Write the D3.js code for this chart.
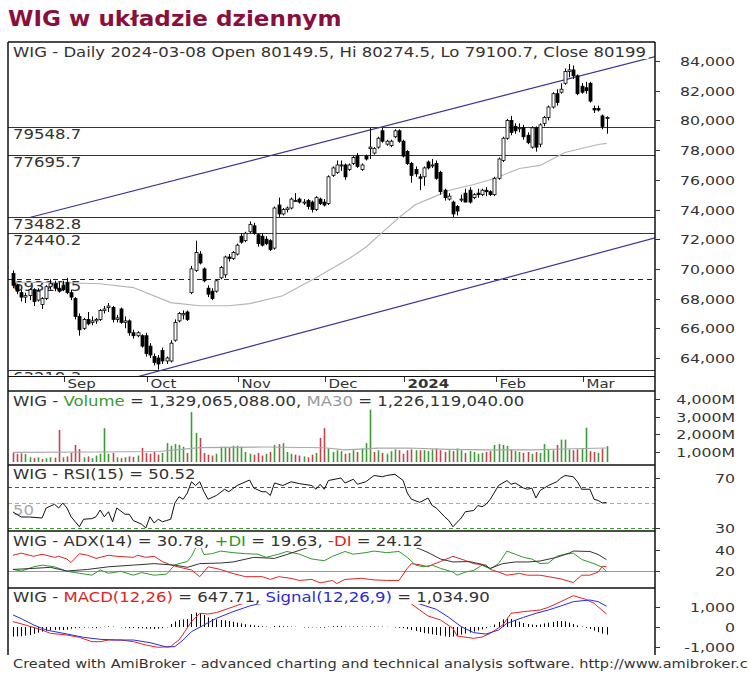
<!DOCTYPE html>
<html><head><meta charset="utf-8">
<script src="https://cdn.jsdelivr.net/npm/d3@7"></script>
<style>body{margin:0;background:#fff}svg{display:block}</style>
</head><body>
<svg id="c" width="750" height="673"></svg>
<script>
// ---------------- DATA ----------------
const monthLabels = ["Sep","Oct","Nov","Dec","2024","Feb","Mar"];
const monthStart  = [13,33,55,76,95,117,138];
const priceTicks  = [64000,66000,68000,70000,72000,74000,76000,78000,80000,82000,84000];
const volTicks    = [1000,2000,3000,4000];
const rsiTicks    = [30,70];
const adxTicks    = [20,40];
const macdTicks   = [-1000,0,1000];

const open = [
69700,68900,68400,68100,68200,68600,67900,67600,68000,68800,
69000,68700,68900,69100,68400,68000,66800,66000,66600,66400,
66500,66600,67200,67400,67400,66600,67300,66400,66500,65700,
65500,65500,65500,64800,64100,64000,64500,63800,63800,65200,
66500,66900,67100,68400,69900,71000,70000,68700,68500,68500,
69400,69600,70800,70700,71000,72200,71900,72500,72900,72300,
72200,72000,71900,71400,74300,73700,74000,74100,74600,74700,
74500,74600,74500,74000,74700,74500,74400,76300,76500,77000,
77000,76700,77100,77600,76700,77600,78100,77800,78200,79300,
78400,78300,78900,79300,78600,77900,77100,76700,76200,76200,
77200,77000,77100,76500,75300,74700,74500,74200,74700,75100,
75300,74800,75100,75000,75300,75200,75000,76100,77300,78800,
80000,79600,79500,79500,79000,78200,79500,78400,79800,80200,
80900,81800,81900,82500,83300,83400,83000,82300,82200,82500,
80800,80800,80300,80149.5];
const high = [
69900,69000,68600,68400,68700,68700,68700,68100,68900,69300,
69200,69100,69200,69400,68600,68100,67000,66700,67100,66800,
66700,67300,67500,67700,67500,66900,67400,66800,66600,65900,
65800,65600,65700,65000,64300,64200,64700,64100,65200,66600,
67100,67200,67200,70200,71900,71200,70100,68900,68700,69300,
70200,70900,71000,71200,71700,72400,72500,73200,73100,72400,
72400,72200,72000,74200,74800,74100,74200,74800,75100,74800,
74700,74700,74600,74900,74800,74700,76300,76900,77300,77300,
77100,77100,77600,77800,77100,77700,79500,78200,78900,79500,
78700,78700,79400,79400,78700,78000,77200,76900,76400,76900,
77300,77400,77300,76600,75400,75100,74600,74300,75000,75400,
75500,75100,75400,75400,75500,75300,76200,77500,78900,80100,
80300,79800,79800,79700,79200,79600,79600,79800,80300,81000,
81900,82100,82500,83500,83800,83700,83100,82500,82600,82600,
81000,81000,80400,80274.5];
const low = [
68700,68300,67800,67700,67900,67500,67800,67300,67900,68600,
68500,68400,68500,68300,67900,66600,65500,65900,66200,66200,
66300,66500,67000,67100,66400,66400,66300,66000,65500,65300,
65400,64700,64100,64000,63500,63220,63600,63600,63700,65100,
66400,66600,66500,68300,69800,70300,69100,68100,67900,68400,
69300,69400,70500,70600,70900,71700,71800,72400,72300,71500,
71500,71600,71200,71300,73500,73600,73800,74000,74500,74400,
74300,74000,73800,73900,74300,74200,74300,76200,76400,76600,
76000,76600,77000,76800,76600,77300,77400,77700,78100,78500,
78300,78200,78800,78500,77500,77000,75800,76200,75300,75600,
76700,76800,76000,75000,74600,74600,73500,73600,74500,74600,
74400,74700,74800,74900,74900,74900,74900,76000,77200,78700,
79000,79100,79200,78700,78400,78100,77900,78200,79600,80000,
80800,81000,81800,82400,82900,82800,81700,81800,81800,81200,
80500,80600,79400,79100.7];
const close = [
68900,68500,68100,68200,68600,67800,68500,68000,68800,69000,
68700,68500,68600,68400,68100,66800,65900,66600,66300,66500,
66600,67200,67300,67500,66600,66700,66400,66500,65700,65500,
65700,64800,64300,64200,63700,63600,63800,64000,65000,66400,
67000,67000,66600,70000,71100,70400,69200,68300,68000,69200,
70100,70800,70700,71100,71600,71800,72400,73000,72400,71700,
71600,71700,71300,74100,73700,74000,74100,74700,74600,74500,
74500,74200,74000,74800,74400,74300,76200,76800,77000,77000,
76200,77000,77500,76900,77000,77400,78200,78100,78800,78600,
78600,78600,79300,78600,77600,77100,76300,76400,76100,76800,
76800,77000,76100,75200,74800,74900,73700,73900,74700,74500,
74500,75000,75000,75300,75200,75000,76100,77400,78800,80000,
79200,79300,79500,78900,78500,79500,78200,79700,80200,80900,
81800,81200,82100,83300,83400,83000,81800,81900,82000,81300,
80700,80700,79600,80199];
// volume in millions
const volume = [
950,900,920,880,700,650,700,600,650,700,680,
2250,700,750,950,1400,1170,700,750,650,800,900,
2350,900,950,700,650,700,750,720,800,1230,
950,900,1000,850,950,1500,1350,1450,1400,1300,950,
3260,2080,1800,950,850,800,900,1300,1300,1250,1350,1350,1300,
1000,900,850,950,800,900,1000,1400,1450,1500,
1000,900,850,800,750,700,850,950,1800,2350,
1200,1000,1100,1050,900,950,1100,1000,1200,1500,3400,
1000,1100,950,900,1050,1150,1100,900,1100,1150,1100,1100,1100,
1050,1150,1200,1100,1000,1100,1050,1200,1100,950,1050,1000,900,950,1000,1050,
1400,1450,1400,1350,
1150,1050,1000,950,1000,900,1000,950,1450,1150,1100,
1400,1700,1700,1150,1100,1150,1200,2380,1050,1000,950,1200,1329];
// [bar index, value] readings of indicator lines
const priceMA = [[0,69080],[11,69080],[21,69000],[29,68740],[38,67730],[45,67520],[52,67520],[57,67660],[65,68190],[73,69400],[81,70700],[85,71460],[89,72460],[93,73460],[97,74330],[101,74800],[105,75280],[111,75680],[116,76090],[122,76760],[127,76970],[133,77840],[141,78380],[143,78450]];
const volMA = [[0,980],[20,1000],[35,1030],[45,1250],[60,1280],[75,1240],[80,1120],[88,1220],[95,1230],[105,1150],[115,1120],[125,1120],[135,1180],[143,1226]];
const levels = [79548.7,77695.7,73482.8,72440.2,63219.3];
const dashedLevel = 69320.5;
const trendUpper = [[4,73460],[155,84320]];
const trendLower = [[30,62740],[155,72110]];
const rsi = [[0,42.8],[2,38.8],[4,38.8],[7,38],[8,46],[10,49],[11,46],[12,50],[13,46],[14,39],[16,31],[17,37],[19,37.5],[20,39],[21,44.4],[22,39],[23,43],[24,35],[25,46],[27,41],[28,41],[29,36],[31,33],[32,30],[33,39],[34,34],[35,37],[36,35],[37,36],[38,37],[39,50],[40,55],[41,53],[42,58],[43,67],[44,64],[45,67],[46,59],[47,53],[49,56],[51,61],[52,59],[54,64],[57,68.4],[58,62],[60,59],[61,59],[62,56],[63,66],[65,64],[67,67],[69,65.5],[72,64],[73,61],[74,65],[75,61],[76,68],[79,70],[80,66],[82,69],[83,65],[85,67],[87,72],[89,71],[90,72],[92,73],[94,68],[95,58],[96,53],[98,50.5],[100,54],[101,48],[102,46],[104,39],[105,36],[106,31],[108,38],[109,43],[111,44],[112,48],[113,47],[114,49],[115,53],[117,64],[119,68],[120,65],[121,66],[123,62],[124,61],[125,62],[126,54],[127,60],[128,62],[129,64],[131,67],[132,70],[133,72],[135,71],[136,67],[137,61],[139,61],[140,53],[141,52],[142,50],[143,50.52]];
const rsiLevels = [30,50,63];
const minusDI = [[0,35],[2,37],[5,34],[7,36],[10,33],[11,34],[13,31.4],[14,28],[16,36.5],[18,35],[20,32],[21,33],[23,35],[25,34],[27,33.5],[29,33],[30,35],[32,33],[34,34],[36,29],[38,25.8],[41,22.7],[43,21],[45,14.6],[47,24],[50,21.5],[53,17.6],[56,14.6],[60,14.6],[62,12],[64,14.6],[67,13],[69,11],[72,12],[74,8.7],[77,11],[78,8],[80,12],[84,13],[87,11.5],[90,11],[93,11],[95,22.5],[96,27],[98,26],[100,24],[101,26],[103,29],[106,34],[109,30],[111,27],[114,25.6],[115,21.5],[117,19],[119,16],[122,17.7],[124,16],[127,16],[129,14.6],[132,12.5],[135,9],[137,16],[139,16],[141,19],[142,24.5],[143,24.12]];
const plusDI = [[0,21.5],[2,20],[5,24],[7,25.6],[10,24],[13,19.7],[16,17.8],[19,16],[21,21],[23,17.8],[26,19.7],[29,16],[31,18.5],[34,16],[37,17],[39,25.8],[40,27],[42,29],[43,34],[44,42],[45,45],[46,35.7],[48,36.5],[50,39],[53,37.5],[56,36.5],[59,36],[61,33],[64,36],[66,38.6],[69,36],[72,31.4],[75,29.8],[77,34],[80,38.6],[82,36],[85,37.5],[87,39],[90,37.5],[93,38.6],[95,33],[97,25.6],[99,24],[101,25.6],[103,22.5],[106,19],[107,16],[109,19],[111,20.5],[113,25.6],[115,22],[117,27],[119,39],[121,36],[123,33],[125,31.4],[127,27],[129,27.6],[131,34],[133,36],[135,37],[137,31],[140,27],[142,23.5],[143,19.63]];
const adx = [[0,21.5],[5,22.5],[9,23.5],[13,20],[18,21.5],[23,24],[29,25.6],[34,27],[39,25.6],[42,23.5],[45,27],[50,27.6],[53,28.6],[58,33],[63,32],[66,35.7],[70,41],[74,46],[81,52],[88,52],[93,48],[98,41],[100,37.6],[103,31.4],[106,28.6],[110,29],[113,26.3],[115,22.5],[118,27],[121,28.6],[124,28.6],[127,29.5],[131,33],[134,37],[135,39],[139,38.6],[141,35.7],[143,30.78]];
const adxLevel = 20;
const macd = [[0,267],[3,100],[7,-150],[9,-317],[13,-400],[16,-517],[19,-733],[21,-733],[23,-650],[26,-650],[29,-733],[32,-900],[35,-1017],[38,-980],[39,-800],[40,-650],[41,-350],[43,267],[45,683],[47,650],[49,720],[52,933],[55,1150],[65,1500],[80,1550],[95,1300],[96,1150],[98,850],[100,550],[103,350],[106,-67],[107,-450],[111,-567],[113,-500],[115,-317],[118,100],[120,683],[123,767],[127,850],[129,983],[132,1267],[135,1567],[138,1383],[140,1183],[143,647.71]];
const signal = [[0,600],[2,417],[5,100],[8,-150],[13,-350],[17,-517],[21,-617],[25,-650],[29,-650],[33,-783],[37,-1000],[39,-980],[41,-650],[43,-233],[46,100],[49,433],[53,767],[57,1050],[59,1150],[70,1400],[85,1500],[95,1300],[98,1150],[102,883],[105,483],[108,17],[111,-283],[114,-350],[117,-150],[119,183],[123,483],[126,683],[129,850],[132,1050],[135,1267],[139,1350],[141,1267],[143,1034.9]];
const macdHist = [
-480,-470,-460,-430,-400,-340,-280,-230,
-180,-160,-150,-140,-150,-130,
-90,-60,-40,-30,-20,-40,-60,
-20,10,30,20,0,-20,
-40,-60,-50,-70,-60,-80,
-90,-100,-80,-60,-20,
150,280,350,380,400,
650,720,680,600,480,
400,380,350,330,300,260,220,180,
140,110,80,60,40,20,-10,
50,60,40,30,20,10,0,-20,-30,-20,-10,-30,-40,
20,40,50,40,20,10,20,30,20,10,30,20,10,20,10,
0,-20,-40,-60,-100,
-150,-200,-250,-300,-330,
-370,-400,-430,-470,-500,-480,
-430,-380,-330,-280,-230,-170,
-120,-60,20,120,
250,380,430,400,330,
260,200,150,120,100,130,
180,220,260,300,300,280,220,150,
80,20,-40,-100,
-180,-260,-330,-387];

// ---------------- LAYOUT ----------------
const svg = d3.select("#c");
const FONT = "DejaVu Sans, Verdana, sans-serif";
const TXT = "#333";
const SX = 1.25;
const L = 8, R = 655;
const P = {main:[42,376], vol:[391,465], rsi:[465,531], adx:[531,588], macd:[588,655]};
const N = close.length;

const x = d3.scaleLinear().domain([0, N-1]).range([13, 606.5]);
const yP = d3.scaleLinear().domain([64000,84000]).range([358,61]);
const yV = d3.scaleLinear().domain([1000,4000]).range([452,399]);
const yR = d3.scaleLinear().domain([30,70]).range([528,478]);
const yA = d3.scaleLinear().domain([20,40]).range([571,550]);
const yM = d3.scaleLinear().domain([-1000,1000]).range([647,607]);

const defs = svg.append("defs");
function pane(name){
  const [t,b] = P[name];
  defs.append("clipPath").attr("id","cp-"+name).append("rect")
    .attr("x",L).attr("y",t).attr("width",R-L).attr("height",b-t);
  return svg.append("g").attr("clip-path",`url(#cp-${name})`);
}
function T(g, px, py, parts, size, o={}){
  const t = g.append("text")
    .attr("transform",`translate(${px},${py}) scale(${o.sx||SX},1)`)
    .attr("font-family",FONT).attr("font-size",size)
    .attr("font-weight",o.weight||"normal")
    .attr("text-anchor",o.anchor||"start");
  if (o.dy) t.attr("dy",o.dy);
  const arr = Array.isArray(parts)?parts:[[parts,o.color||TXT]];
  arr.forEach(([s,c])=>t.append("tspan").attr("fill",c).text(s));
  if (o.bg){
    const b = t.node().getBBox();
    g.insert("rect",()=>t.node()).attr("transform",t.attr("transform"))
      .attr("x",b.x-1).attr("y",-size*0.85).attr("width",b.width+3).attr("height",size*0.85+2).attr("fill","#fff");
  }
  return t;
}
const lineOf = (ys)=>d3.line().x(d=>x(d[0])).y(d=>ys(d[1]));

// big title
T(svg, 8, 26, "WIG w układzie dziennym", 22, {weight:"bold", color:"#8a0f3d", sx:1.05});

// ---------------- MAIN PANE ----------------
const gm = pane("main");
levels.forEach(v=>{
  gm.append("line").attr("x1",L).attr("x2",R).attr("y1",Math.round(yP(v))+0.5).attr("y2",Math.round(yP(v))+0.5)
    .attr("stroke","#333").attr("stroke-width",1.2);
  if (v !== 63219.3) T(gm, 13, Math.round(yP(v))+12, String(v), 13.2);
});
// lowest level label sits half hidden under the pane bottom
const lowLbl = svg.append("svg").attr("x",L).attr("y",P.main[0]).attr("width",R-L).attr("height",P.main[1]-P.main[0]-1).attr("overflow","hidden");
T(lowLbl, 13-L, Math.round(yP(63219.3))+12-P.main[0], "63219.3", 13.2);

gm.append("line").attr("x1",L).attr("x2",R).attr("y1",Math.round(yP(dashedLevel))+0.5).attr("y2",Math.round(yP(dashedLevel))+0.5)
  .attr("stroke","#222").attr("stroke-width",1.1).attr("stroke-dasharray","5,4");
T(gm, 13, Math.round(yP(dashedLevel))+12, String(dashedLevel), 13.2);

[trendUpper, trendLower].forEach(tl=>{
  gm.append("path").attr("d",lineOf(yP)(tl)).attr("fill","none").attr("stroke","#3a3590").attr("stroke-width",1.2);
});
gm.append("path").attr("d",lineOf(yP)(priceMA)).attr("fill","none").attr("stroke","#b4b4b4").attr("stroke-width",1.1);

const bars = d3.range(N);
gm.selectAll(".wick").data(bars).join("line")
  .attr("x1",i=>Math.round(x(i))+0.5).attr("x2",i=>Math.round(x(i))+0.5)
  .attr("y1",i=>yP(Math.max(high[i],open[i],close[i]))).attr("y2",i=>yP(Math.min(low[i],open[i],close[i])))
  .attr("stroke","#000").attr("stroke-width",1);
gm.selectAll(".body").data(bars).join("rect")
  .attr("x",i=>Math.round(x(i))-1).attr("width",3)
  .attr("y",i=>yP(Math.max(open[i],close[i])))
  .attr("height",i=>Math.max(1,Math.abs(yP(open[i])-yP(close[i]))))
  .attr("fill",i=>close[i]>=open[i]?"#fff":"#000")
  .attr("stroke","#000").attr("stroke-width",0.8);

T(gm, 13, 57, "WIG - Daily 2024-03-08 Open 80149.5, Hi 80274.5, Lo 79100.7, Close 80199", 13.2, {bg:true});

// x axis band
monthStart.forEach((m,k)=>{
  const xx = Math.round(x(m))-2.5;
  svg.append("line").attr("x1",xx).attr("x2",xx).attr("y1",377).attr("y2",382).attr("stroke","#333");
  T(svg, xx+3, 388, monthLabels[k], 12.5, {weight: monthLabels[k]==="2024"?"bold":"normal", sx:1.2});
});

// ---------------- VOLUME ----------------
const gv = pane("vol");
const VB = 462;
gv.selectAll(".vb").data(bars).join("line")
  .attr("x1",i=>Math.round(x(i))+0.5).attr("x2",i=>Math.round(x(i))+0.5)
  .attr("y1",VB).attr("y2",i=>yV(volume[i]))
  .attr("stroke",i=>(i===0?close[i]>=open[i]:close[i]>=close[i-1])?"#3b9b35":"#c8424c")
  .attr("stroke-width",1.6);
gv.append("path").attr("d",lineOf(yV)(volMA)).attr("fill","none").attr("stroke","#a8a8a8").attr("stroke-width",1.1);
T(gv, 13, 406, [["WIG - ",TXT],["Volume","#3a9a30"],[" = 1,329,065,088.00, ",TXT],["MA30","#999"],[" = 1,226,119,040.00",TXT]], 13.2, {bg:true});

// ---------------- RSI ----------------
const gr = pane("rsi");
const rsiCol = {30:"#3a9a30",50:"#aaa",63:"#a0303c"};
rsiLevels.forEach(v=>{
  gr.append("line").attr("x1",L).attr("x2",R).attr("y1",Math.round(yR(v))+0.5).attr("y2",Math.round(yR(v))+0.5)
    .attr("stroke",rsiCol[v]).attr("stroke-width",1.1).attr("stroke-dasharray","4,3");
});
T(gr, 13, Math.round(yR(50))+12, "50", 13.2, {color:"#aaa"});
gr.append("path").attr("d",lineOf(yR)(rsi)).attr("fill","none").attr("stroke","#111").attr("stroke-width",1);
T(gr, 13, 479, "WIG - RSI(15) = 50.52", 13.2, {bg:true});

// ---------------- ADX ----------------
const ga = pane("adx");
ga.append("line").attr("x1",L).attr("x2",R).attr("y1",Math.round(yA(adxLevel))+0.5).attr("y2",Math.round(yA(adxLevel))+0.5)
  .attr("stroke","#999").attr("stroke-width",1.1);
ga.append("path").attr("d",lineOf(yA)(minusDI)).attr("fill","none").attr("stroke","#e02424").attr("stroke-width",1);
ga.append("path").attr("d",lineOf(yA)(plusDI)).attr("fill","none").attr("stroke","#2f9a2a").attr("stroke-width",1);
ga.append("path").attr("d",lineOf(yA)(adx)).attr("fill","none").attr("stroke","#333").attr("stroke-width",1);
T(ga, 13, 546, [["WIG - ADX(14) = 30.78, ",TXT],["+DI","#2f9a2a"],[" = 19.63, ",TXT],["-DI","#e02424"],[" = 24.12",TXT]], 13.2, {bg:true});

// ---------------- MACD ----------------
const gc = pane("macd");
gc.selectAll(".mh").data(bars).join("line")
  .attr("x1",i=>Math.round(x(i))+0.5).attr("x2",i=>Math.round(x(i))+0.5)
  .attr("y1",yM(0)).attr("y2",i=>yM(macdHist[i]))
  .attr("stroke","#000").attr("stroke-width",1);
gc.append("path").attr("d",lineOf(yM)(macd)).attr("fill","none").attr("stroke","#e02424").attr("stroke-width",1);
gc.append("path").attr("d",lineOf(yM)(signal)).attr("fill","none").attr("stroke","#2a2ae0").attr("stroke-width",1);
T(gc, 13, 602, [["WIG - ",TXT],["MACD(12,26)","#e02424"],[" = 647.71, ",TXT],["Signal(12,26,9)","#2a2ae0"],[" = 1,034.90",TXT]], 13.2, {bg:true});

// ---------------- FRAME & AXES ----------------
const fr = svg.append("g").attr("stroke","#111").attr("fill","none");
fr.append("line").attr("x1",L).attr("x2",L).attr("y1",P.main[0]).attr("y2",655).attr("stroke-width",1.5);
fr.append("line").attr("x1",R).attr("x2",R).attr("y1",P.main[0]).attr("y2",655).attr("stroke-width",1.5);
fr.append("line").attr("x1",L).attr("x2",R).attr("y1",P.main[0]).attr("y2",P.main[0]).attr("stroke-width",1.5);
fr.append("line").attr("x1",L).attr("x2",R).attr("y1",376.5).attr("y2",376.5).attr("stroke-width",1);
[P.vol[0],P.rsi[0],P.adx[0],P.macd[0]].forEach(yy=>
  fr.append("line").attr("x1",L).attr("x2",R).attr("y1",yy).attr("y2",yy).attr("stroke-width",1.5));

function rAxis(ticks, sc, fmt){
  ticks.forEach(v=>{
    const yy = Math.round(sc(v))+0.5;
    svg.append("line").attr("x1",R).attr("x2",R+5).attr("y1",yy).attr("y2",yy).attr("stroke","#333");
    T(svg, 735, yy, fmt(v), 12.6, {anchor:"end", dy:"0.36em"});
  });
}
const comma = d3.format(",");
rAxis(priceTicks, yP, v=>comma(v));
rAxis(volTicks, yV, v=>comma(v)+"M");
rAxis(rsiTicks, yR, v=>String(v));
rAxis(adxTicks, yA, v=>String(v));
rAxis(macdTicks, yM, v=>v<0?"-"+comma(-v):comma(v));

T(svg, 13, 668, "Created with AmiBroker - advanced charting and technical analysis software. http://www.amibroker.c", 11.5, {sx:1.265});
</script>
</body></html>
